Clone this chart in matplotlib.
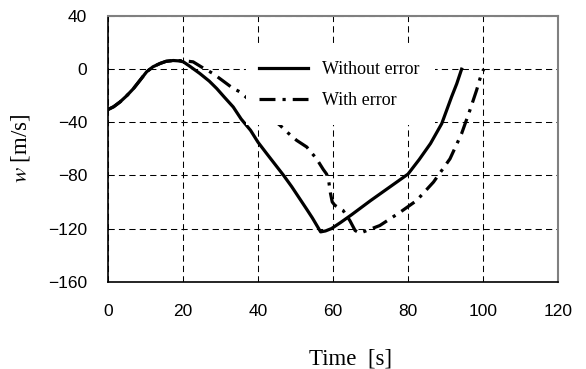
import matplotlib
matplotlib.use('Agg')
import matplotlib.pyplot as plt
from matplotlib.patches import Rectangle

# time [s] and vertical velocity w [m/s]
t_no_err = [0, 1.5, 3.2, 5, 6.8, 8.5, 10.3, 12, 13.9, 15.5, 17.4, 19, 20.1, 22, 24.5, 27, 29,
            31, 33.4, 35.5, 38, 40, 42.3, 44.5, 46.7, 49, 51, 53, 54.5, 56.7, 58, 59.6, 62,
            65, 70, 75, 78, 80, 83, 86, 89, 91.6, 93, 94.3]
w_no_err = [-30.4, -28.3, -24.7, -20, -14.6, -8.5, -2, 1.8, 4.3, 5.9, 6.5, 6.2, 5.5, 1.8, -3.3, -9, -14.6,
            -21, -28.5, -37.5, -46, -55, -63.5, -71.5, -79.5, -88.5, -97, -105.5, -112, -122.5, -121.8, -120, -115.5,
            -109.5, -99, -89, -83, -79, -68, -56, -41, -21, -11, 0]

t_err = [0, 1.5, 3.2, 5, 6.8, 8.5, 10.3, 12, 13.9, 15.5, 17.4, 19, 20.3, 22.7, 25, 28, 30.5,
         33.4, 35.2, 40, 45.9, 48, 50.3, 53, 55.6, 57.4, 58.3, 58.8, 59.3, 59.8, 60.5, 61.9, 62.7,
         64.5, 65.9, 67.2, 69, 72.5, 77.9, 82.3, 86.8, 91.2, 94.3, 96.5, 98.3, 99.6, 100.2]
w_err = [-30.4, -28.3, -24.7, -20, -14.6, -8.5, -2, 1.8, 4.3, 5.9, 6.5, 6.4, 6.3, 5.5, 1.5, -3.3, -8.5,
         -14.6, -17.1, -29, -42.3, -48, -53.6, -58.6, -67.4, -75.5, -79, -83, -93, -100, -102.5, -105, -106.4,
         -114, -121.5, -123.5, -121.5, -117.7, -107.7, -98.9, -85, -67.5, -48.5, -31, -15.8, -3.3, 0]

x_ticks = [0, 20, 40, 60, 80, 100, 120]
y_ticks = [-160, -120, -80, -40, 0, 40]

plt.rcParams['mathtext.fontset'] = 'stix'
SERIF = 'Liberation Serif'
SANS = 'Liberation Sans'

fig = plt.figure(figsize=(5.86, 3.69), dpi=100)
ax = fig.add_axes([0.1843, 0.2366, 0.7679, 0.72])

ax.plot(t_no_err, w_no_err, color='black', linewidth=2.3, label='Without error', zorder=3)
ax.plot(t_err, w_err, color='black', linewidth=2.3, linestyle=(0, (5, 2.2, 1, 2.2)),
        label='With error', zorder=3)

ax.set_xlim(0, 120)
ax.set_ylim(-160, 40)
ax.set_xticks(x_ticks)
ax.set_yticks(y_ticks)
ax.tick_params(length=0, labelsize=12.5)
ax.tick_params(axis='y', pad=15)
ax.tick_params(axis='x', pad=16)
for lbl in ax.get_xticklabels() + ax.get_yticklabels():
    lbl.set_fontfamily(SANS)

ax.grid(True, color='black', linewidth=0.75, linestyle=(0, (6, 4)), zorder=1)

for side in ('left', 'bottom'):
    ax.spines[side].set_color('black')
    ax.spines[side].set_linewidth(1.2)
for side in ('top', 'right'):
    ax.spines[side].set_color('#808080')
    ax.spines[side].set_linewidth(1.5)

ax.set_xlabel('Time  [s]', fontsize=16.5, fontfamily=SERIF, va='top')
ax.xaxis.set_label_coords(0.539, -0.25)
ax.set_ylabel(r'$\mathit{w}$ [m/s]', fontsize=16.5, fontfamily=SERIF)
ax.yaxis.set_label_coords(-0.169, 0.503)

# white legend area, as in the spreadsheet original (it hides grid and curves)
ax.add_patch(Rectangle((0.307, 0.59), 0.42, 0.295, transform=ax.transAxes,
                       facecolor='white', edgecolor='none', zorder=4))
leg = ax.legend(loc='upper left', bbox_to_anchor=(0.3156, 0.863), frameon=False,
                borderpad=0, handlelength=2.7, handletextpad=0.8, labelspacing=0.75,
                prop={'family': SERIF, 'size': 13})
leg.set_zorder(5)

fig.savefig('out.png', dpi=100)
